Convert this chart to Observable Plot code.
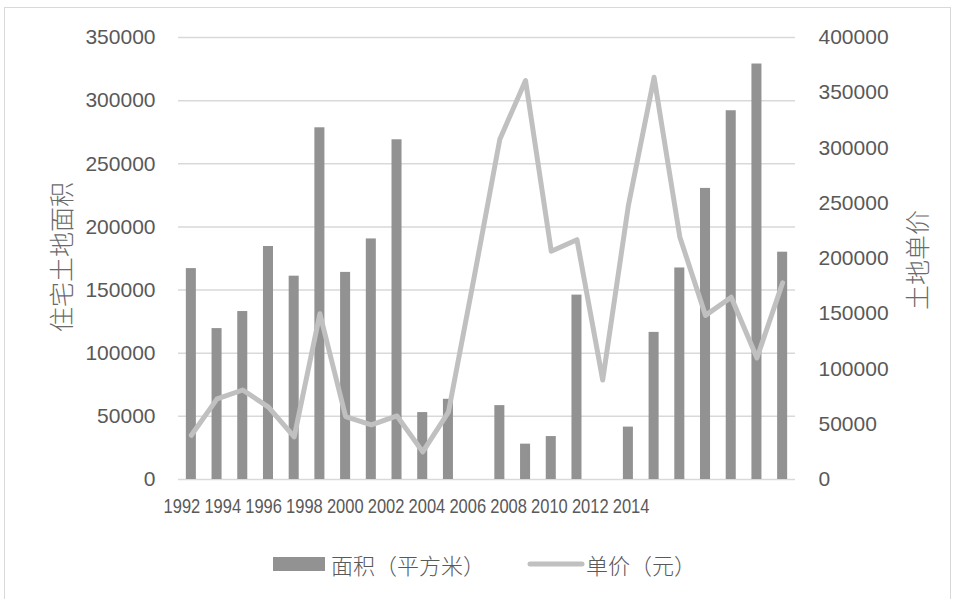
<!DOCTYPE html>
<html>
<head>
<meta charset="utf-8">
<script src="https://cdn.jsdelivr.net/npm/d3@7"></script>
<script src="https://cdn.jsdelivr.net/npm/@observablehq/plot@0.6"></script>
<style>
  html, body { margin: 0; padding: 0; background: #fff; }
  #chart { position: relative; width: 956px; height: 599px; overflow: hidden; font-family: "Liberation Sans", Arial, sans-serif; color: #595959; }
  #frame { position: absolute; left: 4px; top: 7px; width: 947px; height: 620px; border: 1px solid #d9d9d9; box-sizing: border-box; }
  #main, #xlabels, #legend, .ytitle { position: absolute; }
  #main { left: 0; top: 0; }
  /* year labels are drawn narrow and stretched back to full height */
  #xlabels { left: 0; top: 490px; transform: scaleY(1.2); transform-origin: 0 0; }
  .ytitle { font-family: "Noto Sans CJK SC", sans-serif; font-weight: 300; font-size: 25px; color: #6a6a6a; white-space: nowrap; transform: translate(-50%, -50%) rotate(-90deg); line-height: 1; }
  #legend { left: 273px; top: 551px; display: flex; align-items: center; font-family: "Noto Sans CJK SC", sans-serif; font-weight: 300; font-size: 22px; color: #595959; line-height: 26px; }
  #legend .item { display: flex; align-items: center; }
  #legend svg { display: block; }
</style>
</head>
<body>
<div id="chart">
  <div id="frame"></div>
  <div id="main"></div>
  <div id="xlabels"></div>
  <div class="ytitle" style="left:60px; top:257px;">住宅土地面积</div>
  <div class="ytitle" style="left:916px; top:260px;">土地单价</div>
  <div id="legend"></div>
</div>
<script>
// Residential land: area (sq m) and unit price (yuan), 1992–2015
const years = [1992, 1993, 1994, 1995, 1996, 1997, 1998, 1999, 2000, 2001, 2002, 2003,
               2004, 2005, 2006, 2007, 2008, 2009, 2010, 2011, 2012, 2013, 2014, 2015];
const area = [167000, 119500, 133000, 184500, 161000, 278500, 164000, 190500, 269000, 53000, 63500, null,
              58500, 28000, 34000, 146000, null, 41500, 116500, 167500, 230500, 292000, 329000, 180000];
const price = [40000, 73000, 81000, 65500, 38500, 150000, 57000, 49500, 57500, 25000, 61000, 183000,
               308000, 361000, 206500, 217000, 90000, 248000, 364000, 219500, 148500, 165000, 110000, 178000];

const areaTicks = [0, 50000, 100000, 150000, 200000, 250000, 300000, 350000];
const priceTicks = [0, 50000, 100000, 150000, 200000, 250000, 300000, 350000, 400000];
const xTickLabels = ["1992", "1994", "1996", "1998", "2000", "2002", "2004", "2006", "2008", "2010", "2012", "2014"];

const seriesNames = { area: "面积（平方米）", price: "单价（元）" };
const barColor = "#929292";
const lineColor = "#c0c0c0";

// the price series shares the area scale: 400000 on the right lines up with 350000 on the left
const ratio = 350000 / 400000;

const rows = years.map((year, i) => ({ year, area: area[i], price: price[i] }));

const main = Plot.plot({
  width: 956,
  height: 490,
  marginTop: 37,
  marginBottom: 11,
  marginLeft: 178,
  marginRight: 161,
  style: { fontFamily: "'Liberation Sans', Arial, sans-serif", fontSize: "21px", color: "#595959", background: "transparent" },
  x: { type: "band", domain: years, paddingInner: 0.61, paddingOuter: 0.305, round: false, axis: null },
  y: { domain: [0, 350000], axis: null },
  marks: [
    Plot.gridY(areaTicks, { stroke: "#d9d9d9", strokeOpacity: 1, strokeWidth: 1.5 }),
    Plot.barY(rows.filter(d => d.area != null), { x: "year", y: "area", fill: barColor }),
    Plot.lineY(rows, { x: "year", y: d => d.price * ratio, stroke: lineColor, strokeWidth: 5, strokeLinejoin: "round", strokeLinecap: "round" }),
    Plot.axisY(areaTicks, { anchor: "left", label: null, tickSize: 0, tickPadding: 23, tickFormat: d => String(d) }),
    Plot.axisY(priceTicks.map(d => d * ratio), { anchor: "right", label: null, tickSize: 0, tickPadding: 23, tickFormat: d => String(Math.round(d / ratio)) })
  ]
});
document.getElementById("main").appendChild(main);

// category labels every other year, packed tightly under the plot
const xlab = Plot.plot({
  width: 956,
  height: 26,
  marginTop: 0,
  marginBottom: 26,
  marginLeft: 161,
  marginRight: 305,
  style: { fontFamily: "'Liberation Sans', Arial, sans-serif", fontSize: "16.5px", color: "#595959", background: "transparent" },
  x: { type: "band", domain: xTickLabels, padding: 0, round: false },
  marks: [
    Plot.axisX({ anchor: "bottom", label: null, tickSize: 0, tickPadding: 7 })
  ]
});
document.getElementById("xlabels").appendChild(xlab);

// legend
const legend = document.getElementById("legend");
legend.innerHTML = `
  <div class="item">
    <svg width="52" height="14"><rect width="52" height="14" fill="${barColor}"></rect></svg>
    <span style="margin-left:6px">${seriesNames.area}</span>
  </div>
  <div class="item" style="margin-left:42px">
    <svg width="58" height="10"><line x1="3" y1="5" x2="55" y2="5" stroke="${lineColor}" stroke-width="5" stroke-linecap="round"></line></svg>
    <span style="margin-left:1px">${seriesNames.price}</span>
  </div>`;
</script>
</body>
</html>
